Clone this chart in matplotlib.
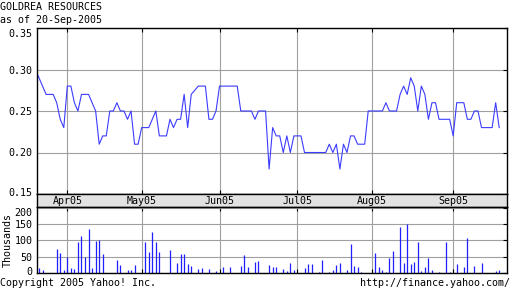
import numpy as np
import pandas as pd
import matplotlib
matplotlib.use('Agg')
import matplotlib.pyplot as plt
from matplotlib.transforms import blended_transform_factory, ScaledTranslation

# trading days shown on the chart
dates = pd.bdate_range('2005-03-21', '2005-09-20')

# closing price (CAD)
price = [0.30, 0.29, 0.28, 0.27, 0.27, 0.27, 0.26, 0.24, 0.23, 0.28,
         0.28, 0.26, 0.25, 0.27, 0.27, 0.27, 0.26, 0.25, 0.21, 0.22,
         0.22, 0.25, 0.25, 0.26, 0.25, 0.25, 0.24, 0.25, 0.21, 0.21,
         0.23, 0.23, 0.23, 0.24, 0.25, 0.22, 0.22, 0.22, 0.24, 0.23,
         0.24, 0.24, 0.27, 0.23, 0.27, 0.275, 0.28, 0.28, 0.28, 0.24,
         0.24, 0.25, 0.28, 0.28, 0.28, 0.28, 0.28, 0.28, 0.25, 0.25,
         0.25, 0.25, 0.24, 0.25, 0.25, 0.25, 0.18, 0.23, 0.22, 0.22,
         0.20, 0.22, 0.20, 0.22, 0.22, 0.22, 0.20, 0.20, 0.20, 0.20,
         0.20, 0.20, 0.20, 0.21, 0.20, 0.21, 0.18, 0.21, 0.20, 0.22,
         0.22, 0.21, 0.21, 0.21, 0.25, 0.25, 0.25, 0.25, 0.25, 0.26,
         0.25, 0.25, 0.25, 0.27, 0.28, 0.27, 0.29, 0.28, 0.25, 0.28,
         0.27, 0.24, 0.26, 0.26, 0.24, 0.24, 0.24, 0.24, 0.22, 0.26,
         0.26, 0.26, 0.24, 0.24, 0.25, 0.25, 0.23, 0.23, 0.23, 0.23,
         0.26, 0.23]

# volume in thousands
volume = [0, 16, 10, 0, 0, 0, 74, 61, 10, 50,
          16, 13, 96, 114, 50, 136, 16, 99, 102, 59,
          0, 0, 0, 41, 26, 0, 10, 10, 26, 0,
          0, 96, 65, 126, 96, 65, 0, 0, 71, 0,
          32, 59, 59, 29, 22, 0, 13, 16, 0, 13,
          0, 7, 0, 19, 0, 19, 0, 0, 22, 56,
          19, 0, 35, 38, 0, 0, 26, 19, 19, 0,
          13, 7, 32, 10, 0, 0, 16, 29, 29, 0,
          4, 41, 0, 4, 10, 26, 32, 0, 10, 90,
          22, 19, 4, 0, 0, 0, 62, 19, 10, 4,
          47, 68, 0, 142, 32, 151, 29, 35, 96, 7,
          19, 47, 10, 0, 4, 0, 96, 4, 0, 29,
          0, 19, 108, 0, 22, 0, 32, 0, 0, 0,
          7, 10]

price_ticks = [0.15, 0.20, 0.25, 0.30, 0.35]
volume_ticks = [0, 50, 100, 150, 200]

x = np.arange(len(dates))
month_pos = [i for i in range(1, len(dates)) if dates[i].month != dates[i - 1].month]
month_lbl = [dates[i].strftime('%b%y') for i in month_pos]

plt.rcParams['font.family'] = 'DejaVu Sans Mono'
plt.rcParams['font.size'] = 7.2

W, H = 512, 288
fig = plt.figure(figsize=(W / 100, H / 100), dpi=100)
fig.patch.set_facecolor('white')

left, right = 36.7, 507
xlim = (0.35, 133.2)
grid_col = '#a0a0a0'


def box(top, bottom):
    return [left / W, 1 - bottom / H, (right - left) / W, (bottom - top) / H]


ax = fig.add_axes(box(28, 194))
band = fig.add_axes(box(194, 207))
axv = fig.add_axes(box(207, 273.3))

# price panel
ax.plot(x, price, color='#3c3cff', lw=0.8)
ax.set_xlim(*xlim)
ax.set_ylim(0.15, 0.35)
ax.set_yticks(price_ticks)
ax.set_yticklabels(['%.2f' % v for v in price_ticks])
ax.set_xticks(month_pos)
ax.set_xticklabels([])
ax.grid(True, color=grid_col, lw=0.8)
ax.set_axisbelow(True)

# volume panel
axv.vlines(x, 0, volume, color='#1f1fff', lw=0.9)
axv.set_xlim(*xlim)
axv.set_ylim(0, 202)
axv.set_yticks(volume_ticks)
axv.set_xticks(month_pos)
axv.set_xticklabels([])
axv.grid(True, color=grid_col, lw=0.8)
axv.set_axisbelow(True)
axv.set_ylabel('Thousands', labelpad=1)

for a in (ax, axv):
    a.tick_params(axis='y', left=False, right=True, direction='in',
                  length=3, width=0.8, pad=3, labelsize=7.2)
    a.tick_params(axis='x', top=True, bottom=True, direction='in',
                  length=3, width=0.8)
    for s in a.spines.values():
        s.set_linewidth(1.0)

# keep the end labels inside their panel, as on the original
def nudge(label, dy_px):
    label.set_transform(label.get_transform() +
                        ScaledTranslation(0, dy_px / 100, fig.dpi_scale_trans))

plabels = ax.get_yticklabels()
nudge(plabels[0], 2)
nudge(plabels[-1], -5)
vlabels = axv.get_yticklabels()
nudge(vlabels[0], 2.5)
nudge(vlabels[-1], -4)

# date band
band.set_facecolor('#e2e2e2')
band.set_xlim(*xlim)
band.set_xticks([])
band.set_yticks([])
trans = blended_transform_factory(band.transData, band.transAxes)
for p, lab in zip(month_pos, month_lbl):
    band.text(p, 0.45, lab, transform=trans, ha='center', va='center')
for s in band.spines.values():
    s.set_linewidth(1.0)

fig.text(0, 1 - 7 / H, 'GOLDREA RESOURCES', ha='left', va='center')
fig.text(0, 1 - 20 / H, 'as of 20-Sep-2005', ha='left', va='center')
fig.text(0, 1 - 283 / H, 'Copyright 2005 Yahoo! Inc.', ha='left', va='center')
fig.text(510 / W, 1 - 283 / H, 'http://finance.yahoo.com/', ha='right', va='center')

fig.savefig('out.png', dpi=100)
